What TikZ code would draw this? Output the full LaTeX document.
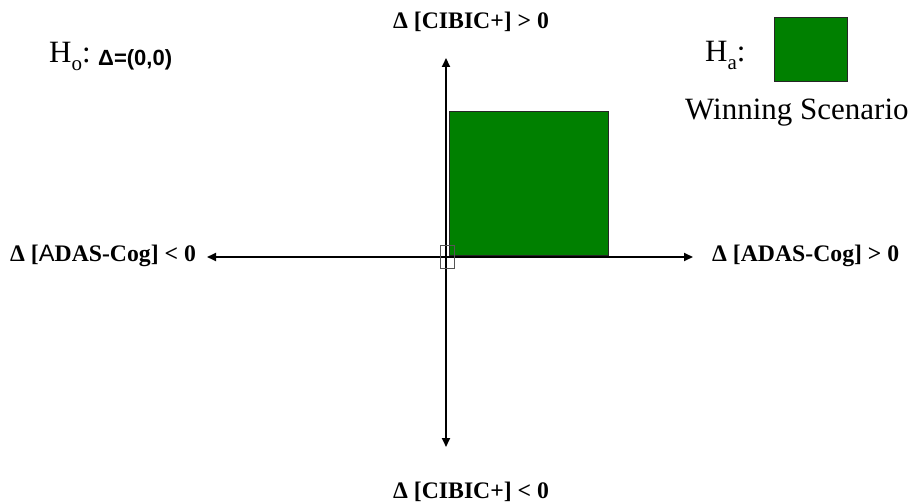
\documentclass[tikz,border=0pt]{standalone}
\usepackage{fontspec}
\setmainfont{Liberation Serif}
\setsansfont{Liberation Sans}
\usetikzlibrary{arrows.meta}
\definecolor{wingreen}{RGB}{0,128,0}
\definecolor{boxgray}{RGB}{85,85,85}
\newcommand{\hsub}[1]{\raisebox{-8pt}{\fontsize{21}{21}\selectfont #1}}

\begin{document}
\begin{tikzpicture}[x=1pt, y=-1pt,
    axis/.style={line width=2pt,
                 {Triangle[length=9pt,width=8pt]}-{Triangle[length=9pt,width=8pt]}},
    axlbl/.style={anchor=base west, inner sep=0pt,
                  font=\fontsize{23.7}{28}\selectfont\bfseries},
    hyp/.style={anchor=base west, inner sep=0pt,
                font=\fontsize{31}{36}\selectfont},
    region/.style={rectangle, draw=black!85, line width=0.8pt, fill=wingreen,
                   anchor=north west, inner sep=0pt}
  ]
    \useasboundingbox (0,0) rectangle (918,502);

    % Winning region
    \node[region, minimum width=159pt, minimum height=144pt] (win) at (449,111) {};

    % Axes
    \coordinate (ytop) at (446,58);
    \coordinate (ybot) at (446,447);
    \coordinate (xleft) at (207,257);
    \coordinate (xright) at (693,257);
    \draw[axis] (xleft) -- (xright);
    \draw[axis] (ybot) -- (ytop);

    % Origin
    \node[rectangle, draw=boxgray, line width=1pt, inner sep=0pt,
          minimum width=14pt, minimum height=23pt] (orig) at (447,257.5) {};

    % Axis labels
    \node[axlbl] (lbltop) at (393,29)   {Δ [CIBIC+] > 0};
    \node[axlbl] (lblbot) at (393,498)  {Δ [CIBIC+] < 0};
    \node[axlbl] (lblleft) at (10,262)  {Δ [{\sffamily\mdseries A}DAS-Cog] < 0};
    \node[axlbl] (lblright) at (712,262) {Δ [ADAS-Cog] > 0};

    % Hypotheses
    \node[hyp] (h0) at (49,63) {H\hsub{o}:};
    \node[anchor=base west, inner sep=0pt,
          font=\sffamily\bfseries\fontsize{22}{26}\selectfont] (h0val) at (98,66) {Δ=(0,0)};
    \node[hyp] (ha) at (705,62) {H\hsub{a}:};
    \node[region, minimum width=73pt, minimum height=64pt] (legend) at (774,17) {};
    \node[hyp] (winlbl) at (685,120) {Winning Scenario};
\end{tikzpicture}
\end{document}
